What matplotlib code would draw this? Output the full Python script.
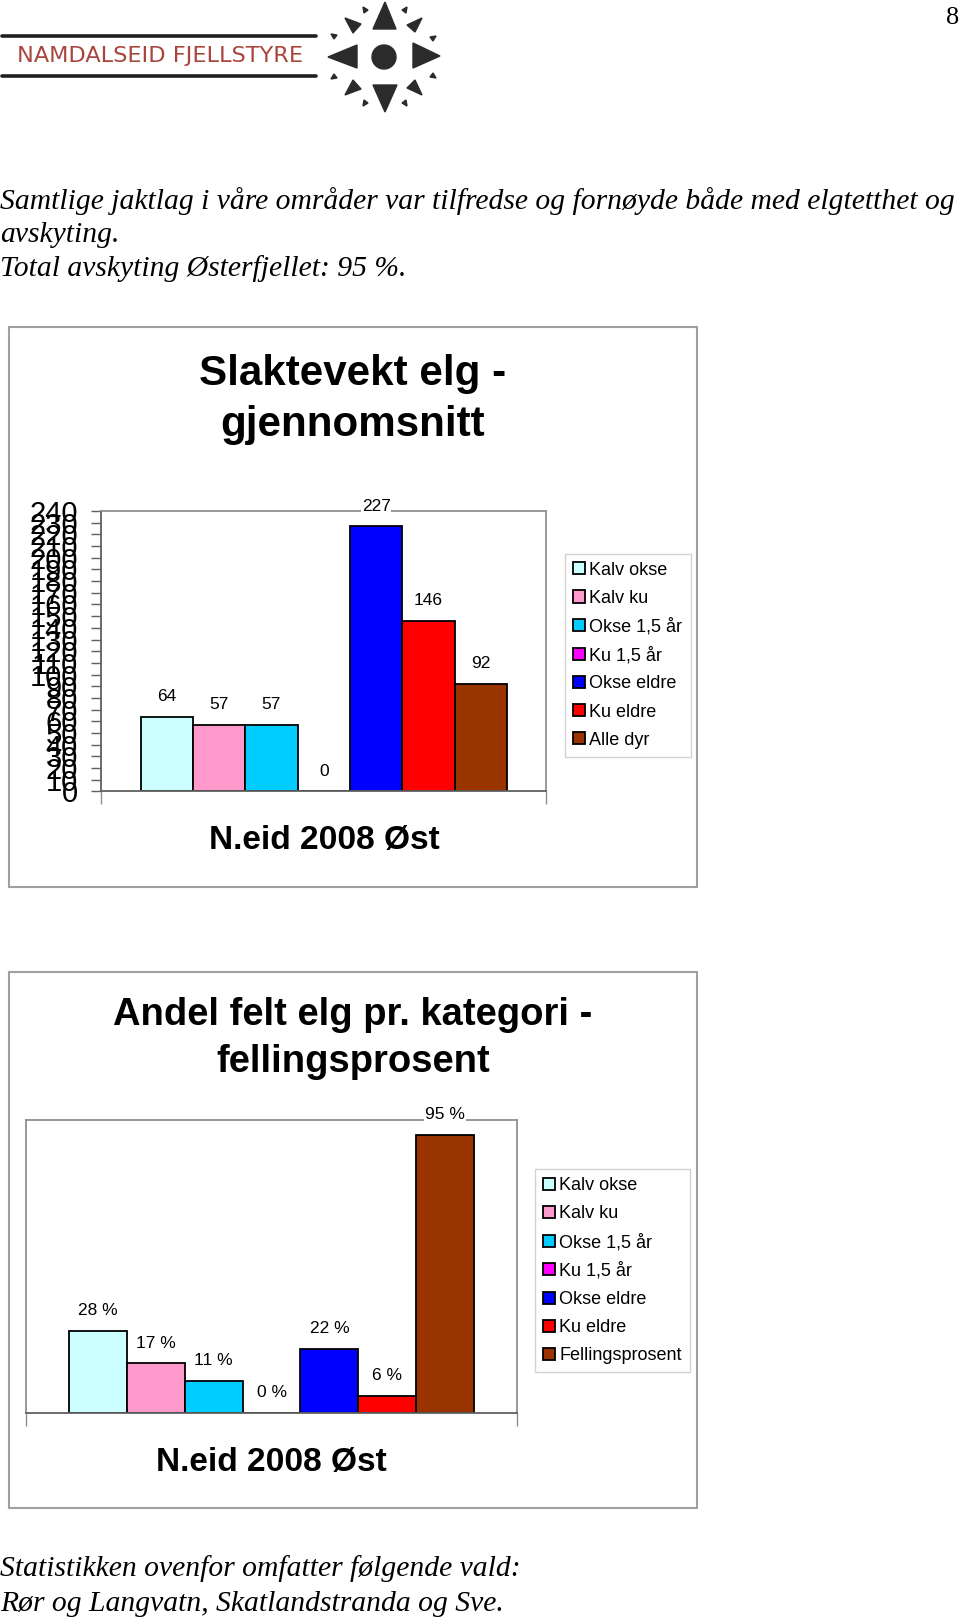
import matplotlib
matplotlib.use('Agg')
import matplotlib.pyplot as plt
from matplotlib import font_manager as fm
from matplotlib.patches import Rectangle, Polygon, Circle

W, H, DPI = 960, 1622, 100

# ---------------- data ----------------
series1 = ['Kalv okse', 'Kalv ku', 'Okse 1,5 år', 'Ku 1,5 år', 'Okse eldre', 'Ku eldre', 'Alle dyr']
series2 = ['Kalv okse', 'Kalv ku', 'Okse 1,5 år', 'Ku 1,5 år', 'Okse eldre', 'Ku eldre', 'Fellingsprosent']
slaktevekt = [64, 57, 57, 0, 227, 146, 92]
fellingsprosent = [0.28, 0.17, 0.11, 0.00, 0.22, 0.06, 0.95]
category = 'N.eid 2008 Øst'
bar_colors = ['#CCFFFF', '#FF99CC', '#00CCFF', '#FF00FF', '#0000FF', '#FF0000', '#993300']
yticks1 = list(range(0, 241, 10))
title1 = ['Slaktevekt elg -', 'gjennomsnitt']
title2 = ['Andel felt elg pr. kategori -', 'fellingsprosent']
intro = ['Samtlige jaktlag i våre områder var tilfredse og fornøyde både med elgtetthet og',
         'avskyting.',
         'Total avskyting Østerfjellet: 95 %.']
outro = ['Statistikken ovenfor omfatter følgende vald:',
         'Rør og Langvatn, Skatlandstranda og Sve.']

names = {f.name for f in fm.fontManager.ttflist}
NARROW = 'Liberation Sans Narrow' if 'Liberation Sans Narrow' in names else 'Liberation Sans'
SANS = 'Liberation Sans'
SERIF = 'Liberation Serif'

fig = plt.figure(figsize=(W / DPI, H / DPI), dpi=DPI)
fig.patch.set_facecolor('white')
renderer = fig.canvas.get_renderer()

page = fig.add_axes([0, 0, 1, 1])
page.set_xlim(0, W)
page.set_ylim(H, 0)
page.axis('off')


def fit(t, width):
    bb = t.get_window_extent(renderer)
    t.set_fontsize(t.get_fontsize() * width / bb.width)
    return t.get_fontsize()


def px_axes(l, t, w, h):
    return fig.add_axes([l / W, 1 - (t + h) / H, w / W, h / H])


# ---------------- logo ----------------
page.plot([2, 316], [35.5, 35.5], color='#1f1f1f', lw=2.6, solid_capstyle='round')
page.plot([2, 316], [75.5, 75.5], color='#1f1f1f', lw=2.6, solid_capstyle='round')
lt = page.text(17, 56, 'NAMDALSEID FJELLSTYRE', ha='left', va='center',
               color='#A8463E', family='DejaVu Sans', fontsize=14)
fit(lt, 285)
cx, cy = 384, 57
page.add_patch(Circle((cx, cy), 12, color='#2b2b2b'))
tris = [
    [(385, 2), (373, 29), (396, 29)],
    [(385, 112), (373, 85), (397, 85)],
    [(328, 57), (357, 45), (357, 68)],
    [(440, 56), (413, 43), (413, 68)],
    [(345, 18), (361, 24), (353, 33)],
    [(422, 18), (407, 25), (415, 32)],
    [(345, 95), (361, 89), (353, 80)],
    [(422, 95), (407, 88), (415, 80)],
    [(363, 7), (368, 10), (364, 13)],
    [(407, 7), (402, 10), (406, 13)],
    [(331, 34), (337, 35), (334, 39)],
    [(436, 36), (430, 37), (433, 41)],
    [(331, 79), (337, 78), (334, 74)],
    [(436, 78), (430, 77), (433, 73)],
    [(363, 106), (368, 103), (364, 100)],
    [(407, 106), (402, 103), (406, 100)],
]
for tri in tris:
    page.add_patch(Polygon(tri, closed=True, color='#2b2b2b'))

page.text(959, 17.5, '8', ha='right', va='center', family=SERIF, fontsize=19)

# ---------------- body text ----------------
t0 = page.text(0, 201, intro[0], ha='left', va='center', family=SERIF, style='italic', fontsize=20)
fs_body = fit(t0, 956)
page.text(0, 235, intro[1], ha='left', va='center', family=SERIF, style='italic', fontsize=fs_body)
page.text(0, 269, intro[2], ha='left', va='center', family=SERIF, style='italic', fontsize=fs_body)
page.text(0, 1569, outro[0], ha='left', va='center', family=SERIF, style='italic', fontsize=fs_body)
page.text(0, 1604, outro[1], ha='left', va='center', family=SERIF, style='italic', fontsize=fs_body)

# ---------------- chart frames ----------------
page.add_patch(Rectangle((9.3, 327), 688, 559.5, fill=False, ec='#a0a0a0', lw=1.5))
page.add_patch(Rectangle((9.3, 972.4), 688, 536, fill=False, ec='#a0a0a0', lw=1.5))

# titles
a = page.text(353, 374.5, title1[0], ha='center', va='center', family=NARROW, weight='bold', fontsize=30)
fs_t1 = fit(a, 307)
page.text(353, 425.2, title1[1], ha='center', va='center', family=NARROW, weight='bold', fontsize=fs_t1)
b = page.text(353, 1014.8, title2[0], ha='center', va='center', family=NARROW, weight='bold', fontsize=30)
fs_t2 = fit(b, 479)
page.text(353, 1062.4, title2[1], ha='center', va='center', family=NARROW, weight='bold', fontsize=fs_t2)

c = page.text(324.8, 840, category, ha='center', va='center', family=NARROW, weight='bold', fontsize=22)
fs_x = fit(c, 231)
page.text(271.5, 1463, category, ha='center', va='center', family=NARROW, weight='bold', fontsize=fs_x)


def draw_chart(ax, values, labels, fmt, ymax):
    n = len(values)
    w = 1.0 / (n + 1.5)
    x0 = -0.5 + 0.75 * w
    handles = []
    for i, (v, lab, col) in enumerate(zip(values, labels, bar_colors)):
        xc = x0 + (i + 0.5) * w
        bc = ax.bar(xc, v, width=w, color=col, edgecolor='black', linewidth=1.3, label=lab, zorder=2)
        handles.append(bc)
        ax.annotate(fmt(v), (xc, v), xytext=(0, 14.5), textcoords='offset points',
                    ha='center', va='center', fontsize=12.5, family=SANS,
                    bbox=dict(fc='white', ec='none', pad=0.6), annotation_clip=False, zorder=6)
    ax.set_xlim(-0.5, 0.5)
    ax.set_ylim(0, ymax)
    ax.set_xticks([-0.5, 0.5])
    ax.set_xticklabels([])
    ax.tick_params(axis='x', direction='out', length=9, width=1, color='#909090')
    for s in ['top', 'right']:
        ax.spines[s].set_color('#909090')
        ax.spines[s].set_linewidth(1.3)
    ax.spines['bottom'].set_color('#606060')
    ax.spines['bottom'].set_linewidth(1.3)
    return handles


def legend(handles, labels, l, t):
    leg = fig.legend(handles, labels, loc='upper left', bbox_to_anchor=(l / W, 1 - t / H),
                     bbox_transform=fig.transFigure, frameon=True, fancybox=False,
                     prop={'family': SANS, 'size': 13}, handlelength=0.65, handleheight=0.65,
                     handletextpad=0.25, labelspacing=0.62, borderpad=0.45, borderaxespad=0)
    leg.get_frame().set_edgecolor('#c8c8c8')
    leg.get_frame().set_linewidth(1.0)
    return leg


# ---------------- chart 1 ----------------
ax1 = px_axes(101.4, 511, 444.8, 280.4)
h1 = draw_chart(ax1, slaktevekt, series1, lambda v: f'{v:d}', 240)
ax1.set_yticks(yticks1)
ax1.set_yticklabels([str(v) for v in yticks1], family=SANS, fontsize=21)
ax1.tick_params(axis='y', direction='out', length=7, width=1, color='#606060', pad=10)
ax1.spines['left'].set_color('#606060')
ax1.spines['left'].set_linewidth(1.3)
legend(h1, series1, 565, 553.5)

# ---------------- chart 2 ----------------
ax2 = px_axes(25.9, 1120.3, 491.3, 292.8)
h2 = draw_chart(ax2, fellingsprosent, series2, lambda v: f'{round(v * 100):d} %', 1.0)
ax2.set_yticks([])
ax2.spines['left'].set_color('#909090')
ax2.spines['left'].set_linewidth(1.3)
legend(h2, series2, 535, 1169)

fig.savefig('out.png', dpi=DPI, facecolor='white')
